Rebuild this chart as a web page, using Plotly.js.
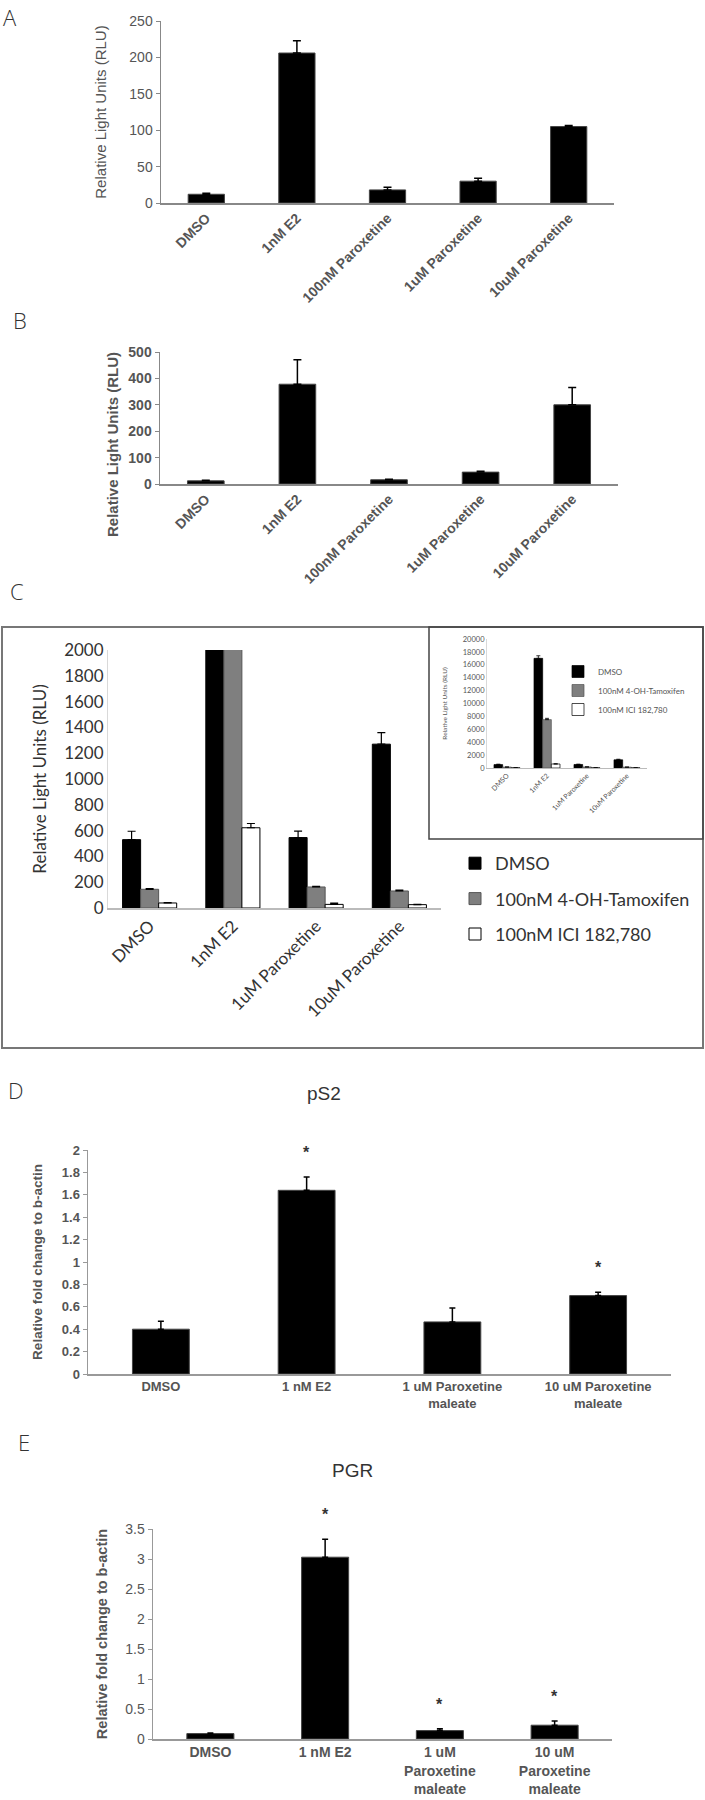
<!DOCTYPE html>
<html><head><meta charset="utf-8">
<script src="https://cdn.plot.ly/plotly-3.0.1.min.js"></script>
<style>html,body{margin:0;padding:0;background:#fff}#chart{width:705px;height:1800px}</style>
</head><body><div id="chart"></div>
<script>
const W = 705, H = 1800;
// ---- Panel A ----
const catA = ['DMSO', '1nM E2', '100nM Paroxetine', '1uM Paroxetine', '10uM Paroxetine'];
const valA = [12, 206, 18, 30, 105];
const errA = [1.5, 17, 3.5, 4, 1.5];
// ---- Panel B ----
const catB = ['DMSO', '1nM E2', '100nM Paroxetine', '1uM Paroxetine', '10uM Paroxetine'];
const valB = [12, 378, 16, 45, 300];
const errB = [2, 93, 2, 3, 66];
// ---- Panel C (main + inset share data) ----
const catC = ['DMSO', '1nM E2', '1uM Paroxetine', '10uM Paroxetine'];
const seriesC = ['DMSO', '100nM 4-OH-Tamoxifen', '100nM ICI 182,780'];
const cDMSO = [530, 17000, 546, 1270];
const cDMSOerr = [65, 400, 50, 90];
const cTam = [145, 7500, 163, 132];
const cTamErr = [6, 200, 5, 7];
const cICI = [39, 622, 28, 26];
const cICIerr = [3, 33, 10, 3];
// ---- Panel D (pS2) ----
const catD = ['DMSO', '1 nM E2', '1 uM Paroxetine<br>maleate', '10 uM Paroxetine<br>maleate'];
const valD = [0.40, 1.64, 0.465, 0.70];
const errD = [0.07, 0.12, 0.125, 0.03];
const sigD = [false, true, false, true];
// ---- Panel E (PGR) ----
const catE = ['DMSO', '1 nM E2', '1 uM<br>Paroxetine<br>maleate', '10 uM<br>Paroxetine<br>maleate'];
const valE = [0.09, 3.03, 0.14, 0.23];
const errE = [0.01, 0.30, 0.03, 0.07];
const sigE = [false, true, true, true];

function dx(a, b) { return [a / W, b / W]; }
function dy(top, bottom) { return [1 - bottom / H, 1 - top / H]; }
function up(arr, color, thick, w) {
  return {type: 'data', array: arr, arrayminus: arr.map(() => 0), symmetric: false,
          color: color, thickness: thick, width: w};
}

const grayTxt = '#555';
const arialB = (s, c) => ({family: 'Liberation Sans, Arial, sans-serif', size: s, color: c || grayTxt, weight: 'bold'});
const arial = (s, c) => ({family: 'Liberation Sans, Arial, sans-serif', size: s, color: c || grayTxt});
const lato = (s, c) => ({family: 'Lato, Open Sans, sans-serif', size: s, color: c || '#333'});

const traces = [];
traces.push({type: 'bar', x: catA, y: valA, xaxis: 'x', yaxis: 'y', width: 0.4, showlegend: false,
  marker: {color: '#000', line: {color: '#444', width: 1}}, error_y: up(errA, '#000', 1.5, 4)});
traces.push({type: 'bar', x: catB, y: valB, xaxis: 'x2', yaxis: 'y2', width: 0.4, showlegend: false,
  marker: {color: '#000', line: {color: '#444', width: 1}}, error_y: up(errB, '#000', 1.5, 4)});

const cVals = [cDMSO, cTam, cICI];
const cErrs = [cDMSOerr, cTamErr, cICIerr];
const cFill = ['#000000', '#7f7f7f', '#ffffff'];
const cLine = ['#000000', '#555555', '#000000'];
for (let i = 0; i < 3; i++) {
  traces.push({type: 'bar', name: seriesC[i], x: catC, y: cVals[i], xaxis: 'x3', yaxis: 'y3',
    legend: 'legend', legendgroup: 'm' + i,
    marker: {color: cFill[i], line: {color: cLine[i], width: 1}}, error_y: up(cErrs[i], '#000', 1.2, 4)});
}
for (let i = 0; i < 3; i++) {
  traces.push({type: 'bar', name: seriesC[i], x: catC, y: cVals[i], xaxis: 'x4', yaxis: 'y4',
    legend: 'legend2', legendgroup: 'i' + i,
    marker: {color: cFill[i], line: {color: cLine[i], width: 0.7}}, error_y: up(cErrs[i], '#000', 0.8, 2)});
}
traces.push({type: 'bar', x: catD, y: valD, xaxis: 'x5', yaxis: 'y5', width: 0.39, showlegend: false,
  marker: {color: '#000', line: {color: '#444', width: 1}}, error_y: up(errD, '#000', 1.5, 3)});
traces.push({type: 'bar', x: catE, y: valE, xaxis: 'x6', yaxis: 'y6', width: 0.41, showlegend: false,
  marker: {color: '#000', line: {color: '#444', width: 1}}, error_y: up(errE, '#000', 1.5, 3)});

const baseX = {type: 'category', showline: true, ticks: '', showgrid: false, zeroline: false, fixedrange: true};
const baseY = {showline: true, showgrid: false, zeroline: false, tickformat: 'd', fixedrange: true};

const ann = [];
function letter(t, x, y) {
  ann.push({xref: 'paper', yref: 'paper', x: x / W, y: 1 - y / H, xanchor: 'center', yanchor: 'middle',
    text: t, showarrow: false, font: {family: 'Open Sans, sans-serif', size: 22, color: '#333', weight: 300}});
}
ann.push({xref: 'paper', yref: 'paper', x: 10 / W, y: 1, xanchor: 'center', yanchor: 'top',
  text: 'A', showarrow: false, font: {family: 'Open Sans, sans-serif', size: 22, color: '#333', weight: 300}});
letter('B', 20, 320); letter('C', 17, 591); letter('D', 16, 1090); letter('E', 24, 1442);
ann.push({xref: 'paper', yref: 'paper', x: 324 / W, y: 1 - 1093 / H, xanchor: 'center', yanchor: 'middle',
  text: 'pS2', showarrow: false, font: {family: 'Liberation Sans, Arial, sans-serif', size: 19, color: '#333'}});
ann.push({xref: 'paper', yref: 'paper', x: 352 / W, y: 1 - 1470 / H, xanchor: 'center', yanchor: 'middle',
  text: 'PGR', showarrow: false, font: {family: 'Liberation Sans, Arial, sans-serif', size: 19, color: '#333'}});
// panel B y-axis title (offset downward along the axis in the reference)
ann.push({xref: 'paper', yref: 'paper', x: 112 / W, y: 1 - 445 / H, xanchor: 'center', yanchor: 'middle',
  textangle: -90, text: 'Relative Light Units (RLU)', showarrow: false, font: arialB(15)});
sigD.forEach((s, i) => { if (s) ann.push({xref: 'x5', yref: 'y5', x: catD[i], y: valD[i] + errD[i], yanchor: 'bottom',
  yshift: 14, text: '*', showarrow: false, font: arialB(16, '#333')}); });
sigE.forEach((s, i) => { if (s) ann.push({xref: 'x6', yref: 'y6', x: catE[i], y: valE[i] + errE[i], yanchor: 'bottom',
  yshift: 14, text: '*', showarrow: false, font: arialB(16, '#333')}); });

const layout = {
  width: W, height: H, margin: {l: 0, r: 0, t: 0, b: 0},
  paper_bgcolor: '#fff', plot_bgcolor: 'rgba(0,0,0,0)',
  barmode: 'group', bargap: 0.35, bargroupgap: 0,
  xaxis: Object.assign({}, baseX, {domain: dx(161, 614), anchor: 'y', tickangle: -45, tickfont: arialB(14),
    linecolor: '#888', linewidth: 1.5}),
  yaxis: Object.assign({}, baseY, {domain: dy(21, 203), anchor: 'x', range: [0, 250], dtick: 50, tickfont: arial(14),
    linecolor: '#888', linewidth: 1.5, ticks: 'outside', ticklen: 4, tickcolor: '#888',
    title: {text: 'Relative Light Units (RLU)', font: arial(15), standoff: 19}}),
  xaxis2: Object.assign({}, baseX, {domain: dx(160, 618), anchor: 'y2', tickangle: -45, tickfont: arialB(14),
    linecolor: '#888', linewidth: 1.5}),
  yaxis2: Object.assign({}, baseY, {domain: dy(352, 484), anchor: 'x2', range: [0, 500], dtick: 100, tickfont: arialB(14),
    linecolor: '#888', linewidth: 1.5, ticks: 'outside', ticklen: 4, tickcolor: '#888'}),
  xaxis3: Object.assign({}, baseX, {domain: dx(108, 441), anchor: 'y3', tickangle: -45, tickfont: lato(17),
    linecolor: '#bbb', linewidth: 1.5}),
  yaxis3: Object.assign({}, baseY, {domain: dy(650, 908), anchor: 'x3', range: [0, 2000], dtick: 200, tickfont: lato(17),
    linecolor: '#d9d9d9', linewidth: 1,
    title: {text: 'Relative Light Units (RLU)', font: lato(17), standoff: 13}}),
  xaxis4: Object.assign({}, baseX, {domain: dx(487, 647), anchor: 'y4', tickangle: -45, tickfont: lato(7, '#555'),
    linecolor: '#bbb', linewidth: 1}),
  yaxis4: Object.assign({}, baseY, {domain: dy(639, 768), anchor: 'x4', range: [0, 20000], dtick: 2000, tickfont: lato(7.5, '#555'),
    linecolor: '#d9d9d9', linewidth: 1,
    title: {text: 'Relative Light Units (RLU)', font: lato(6.5, '#555'), standoff: 14}}),
  xaxis5: Object.assign({}, baseX, {domain: dx(88, 671), anchor: 'y5', tickangle: 0, tickfont: arialB(13),
    linecolor: '#999', linewidth: 1.5}),
  yaxis5: Object.assign({}, baseY, {domain: dy(1150, 1374), anchor: 'x5', range: [0, 2], dtick: 0.2, tickformat: '',
    tickfont: arialB(13), linecolor: '#999', linewidth: 1.5, ticks: 'outside', ticklen: 4, tickcolor: '#999',
    title: {text: 'Relative fold change to b-actin', font: arialB(13.5), standoff: 16}}),
  xaxis6: Object.assign({}, baseX, {domain: dx(153, 612), anchor: 'y6', tickangle: 0, tickfont: arialB(14),
    linecolor: '#999', linewidth: 1.5}),
  yaxis6: Object.assign({}, baseY, {domain: dy(1529, 1739), anchor: 'x6', range: [0, 3.5], dtick: 0.5, tickformat: '',
    tickfont: arial(14), linecolor: '#999', linewidth: 1.5, ticks: 'outside', ticklen: 4, tickcolor: '#999',
    title: {text: 'Relative fold change to b-actin', font: arialB(14.5), standoff: 14}}),
  legend: {x: 455 / W, y: 1 - 845 / H, xanchor: 'left', yanchor: 'top', font: lato(18, '#333'),
    traceorder: 'grouped', tracegroupgap: 9, bgcolor: 'rgba(0,0,0,0)'},
  legend2: {x: 558 / W, y: 1 - 657 / H, xanchor: 'left', yanchor: 'top', font: lato(8, '#555'),
    traceorder: 'grouped', tracegroupgap: 0, bgcolor: 'rgba(0,0,0,0)'},
  shapes: [
    {type: 'rect', xref: 'paper', yref: 'paper', x0: 2 / W, x1: 703 / W, y0: 1 - 1048 / H, y1: 1 - 627 / H,
      line: {color: '#777', width: 2}},
    {type: 'rect', xref: 'paper', yref: 'paper', x0: 429 / W, x1: 703 / W, y0: 1 - 839 / H, y1: 1 - 627 / H,
      line: {color: '#444', width: 1.5}}
  ],
  annotations: ann
};

Plotly.newPlot('chart', traces, layout, {staticPlot: true, displayModeBar: false});
</script></body></html>
